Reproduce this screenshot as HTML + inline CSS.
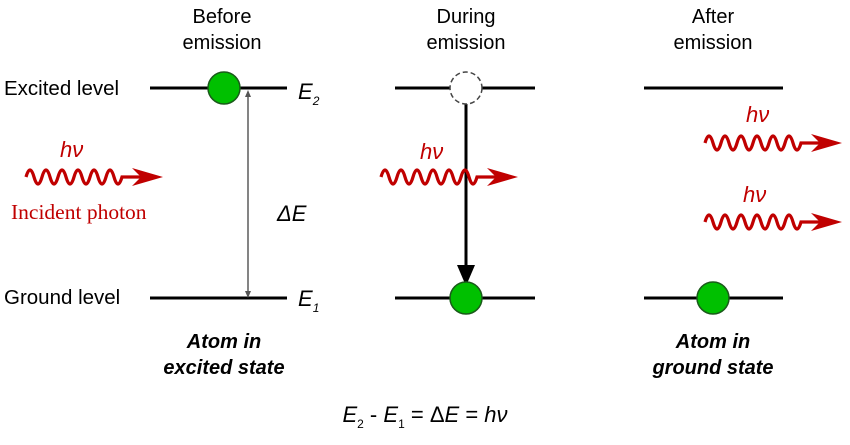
<!DOCTYPE html>
<html><head><style>
body{margin:0;background:#fff;width:850px;height:440px;overflow:hidden}
svg text{font-family:"Liberation Sans",Arial,sans-serif}
</style></head><body>
<svg width="850" height="440" viewBox="0 0 850 440" xmlns="http://www.w3.org/2000/svg">
<defs>
<g id="wave">
<path d="M0,0 q4,-14 8,0 t8,0 t8,0 t8,0 t8,0 t8,0 t8,0 t8,0 t8,0 t8,0 t8,0 t8,0 l28,0" fill="none" stroke="#c00000" stroke-width="3.2"/>
<path d="M106,-9 L137,0 L106,9 L115,0 Z" fill="#c00000"/>
</g>
</defs>
<g font-size="20" text-anchor="middle" fill="#000">
<text x="222" y="23">Before</text><text x="222" y="49">emission</text>
<text x="466" y="23">During</text><text x="466" y="49">emission</text>
<text x="713" y="23">After</text><text x="713" y="49">emission</text>
</g>
<text x="4" y="95" font-size="20.5">Excited level</text>
<text x="4" y="304" font-size="20.5">Ground level</text>
<g stroke="#000" stroke-width="3">
<line x1="150" y1="88" x2="287" y2="88"/>
<line x1="150" y1="298" x2="287" y2="298"/>
<line x1="395" y1="88" x2="535" y2="88"/>
<line x1="395" y1="298" x2="535" y2="298"/>
<line x1="644" y1="88" x2="783" y2="88"/>
<line x1="644" y1="298" x2="783" y2="298"/>
<line x1="466" y1="104" x2="466" y2="270"/>
</g>
<line x1="248" y1="92" x2="248" y2="296" stroke="#333" stroke-width="1.2"/>
<path d="M245,97 L248,90 L251,97Z M245,291 L248,298 L251,291Z" fill="#555"/>
<path d="M457,265 L475,265 L466,286Z" fill="#000"/>
<circle cx="466" cy="88" r="16" fill="#fff" stroke="#444" stroke-width="1.5" stroke-dasharray="5,3"/>
<g fill="#00c000" stroke="#1a5a1a" stroke-width="1.5">
<circle cx="224" cy="88" r="16"/>
<circle cx="466" cy="298" r="16"/>
<circle cx="713" cy="298" r="16"/>
</g>
<g font-size="22" font-style="italic">
<text x="298" y="99">E<tspan font-size="12" dy="6">2</tspan></text>
<text x="298" y="306">E<tspan font-size="12" dy="6">1</tspan></text>
<text x="277" y="221">Δ<tspan>E</tspan></text>
</g>
<g font-size="20" font-style="italic" font-weight="bold" text-anchor="middle">
<text x="224" y="348">Atom in</text><text x="224" y="374">excited state</text>
<text x="713" y="348">Atom in</text><text x="713" y="374">ground state</text>
</g>
<g fill="#c00000" font-style="italic" font-size="22">
<text x="60" y="157">hν</text>
<text x="420" y="159">hν</text>
<text x="746" y="122">hν</text>
<text x="743" y="202">hν</text>
</g>
<text x="11" y="219" fill="#c00000" font-size="21.5" style="font-family:'Liberation Serif',serif">Incident photon</text>
<use href="#wave" x="26" y="177"/>
<use href="#wave" x="381" y="177"/>
<use href="#wave" x="705" y="143"/>
<use href="#wave" x="705" y="222"/>
<text x="425" y="422" font-size="22" text-anchor="middle"><tspan font-style="italic">E</tspan><tspan font-size="12" dy="6">2</tspan><tspan dy="-6"> - </tspan><tspan font-style="italic">E</tspan><tspan font-size="12" dy="6">1</tspan><tspan dy="-6"> = Δ</tspan><tspan font-style="italic">E</tspan> = <tspan font-style="italic">hν</tspan></text>
</svg>
</body></html>
